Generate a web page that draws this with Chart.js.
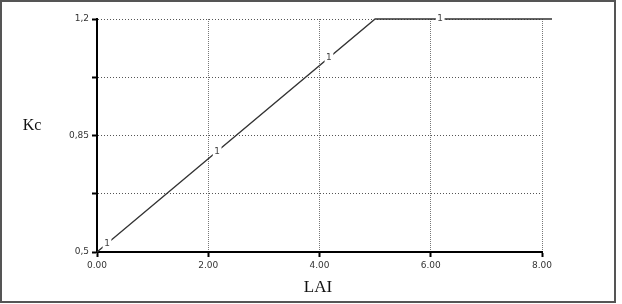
<!DOCTYPE html>
<html>
<head>
<meta charset="utf-8">
<script src="https://cdn.jsdelivr.net/npm/chart.js@4.4.1/dist/chart.umd.min.js"></script>
<style>
  html, body { margin: 0; padding: 0; background: #fff; }
  #c { position: absolute; left: 0; top: 0; }
</style>
</head>
<body>
<canvas id="c" width="622" height="304"></canvas>
<script>
// ---- data ----
const lineLAI = [0, 5, 8.18];
const lineKc = [0.5, 1.2, 1.2];
const labelLAI = [0.18, 2.16, 4.17, 6.17];
const labelKc = [0.525, 0.802, 1.084, 1.2];
const labelText = '1';
const xTicks = [0, 2, 4, 6, 8];
const yTicks = [0.5, 0.675, 0.85, 1.025, 1.2];
const yTickLabels = ['0,5', '', '0,85', '', '1,2'];
const xTitle = 'LAI';
const yTitle = 'Kc';

const points = lineLAI.map((x, i) => ({ x: x, y: lineKc[i] }));

const decor = {
  id: 'decor',
  beforeDraw(chart) {
    const ctx = chart.ctx;
    ctx.save();
    ctx.fillStyle = '#fff';
    ctx.fillRect(0, 0, chart.width, chart.height);
    ctx.strokeStyle = '#555';
    ctx.lineWidth = 2;
    ctx.strokeRect(1, 1, 614, 301);
    ctx.restore();
  },
  afterDatasetsDraw(chart) {
    const ctx = chart.ctx;
    const xs = chart.scales.x, ys = chart.scales.y;
    ctx.save();
    ctx.font = '9px "DejaVu Sans"';
    ctx.textAlign = 'center';
    ctx.textBaseline = 'middle';
    labelLAI.forEach((v, i) => {
      const px = xs.getPixelForValue(v);
      const py = ys.getPixelForValue(labelKc[i]);
      const w = ctx.measureText(labelText).width;
      ctx.fillStyle = '#fff';
      ctx.fillRect(px - w / 2 - 1.5, py - 5, w + 3, 10);
      ctx.fillStyle = '#444';
      ctx.fillText(labelText, px, py);
    });
    ctx.restore();
  },
  afterDraw(chart) {
    const ctx = chart.ctx;
    ctx.save();
    ctx.fillStyle = '#111';
    ctx.textBaseline = 'middle';
    ctx.textAlign = 'center';
    ctx.font = '16px "Liberation Serif"';
    ctx.fillText(yTitle, 32, 126);
    ctx.font = '17px "Liberation Serif"';
    ctx.fillText(xTitle, 318, 288);
    ctx.restore();
  }
};

new Chart(document.getElementById('c'), {
  type: 'scatter',
  data: {
    datasets: [{
      data: points,
      showLine: true,
      borderColor: '#333',
      borderWidth: 1.3,
      pointRadius: 0,
      tension: 0,
      clip: false
    }]
  },
  options: {
    responsive: false,
    animation: false,
    layout: { padding: { left: 0, top: 19, right: 80, bottom: 0 } },
    plugins: { legend: { display: false }, tooltip: { enabled: false } },
    scales: {
      x: {
        type: 'linear',
        min: 0, max: 8,
        afterFit(s) { s.height = 52; },
        afterBuildTicks(s) { s.ticks = xTicks.map(v => ({ value: v })); },
        ticks: {
          padding: 3,
          color: '#333',
          font: { family: 'DejaVu Sans', size: 9 },
          callback: v => Number(v).toFixed(2),
          maxRotation: 0
        },
        grid: {
          color: '#777',
          lineWidth: 1,
          tickLength: 5,
          tickColor: '#000',
          tickWidth: 2
        },
        border: { display: true, color: '#000', width: 2, dash: [1, 1] }
      },
      y: {
        type: 'linear',
        min: 0.5, max: 1.2,
        afterFit(s) { s.width = 97; },
        afterBuildTicks(s) { s.ticks = yTicks.map(v => ({ value: v })); },
        ticks: {
          padding: 3,
          color: '#333',
          font: { family: 'DejaVu Sans', size: 9 },
          callback: (v, i) => yTickLabels[i]
        },
        grid: {
          color: '#555',
          lineWidth: 1,
          tickLength: 5,
          tickColor: '#000',
          tickWidth: 2
        },
        border: { display: true, color: '#000', width: 2, dash: [1, 2] }
      }
    }
  },
  plugins: [decor]
});
</script>
</body>
</html>
